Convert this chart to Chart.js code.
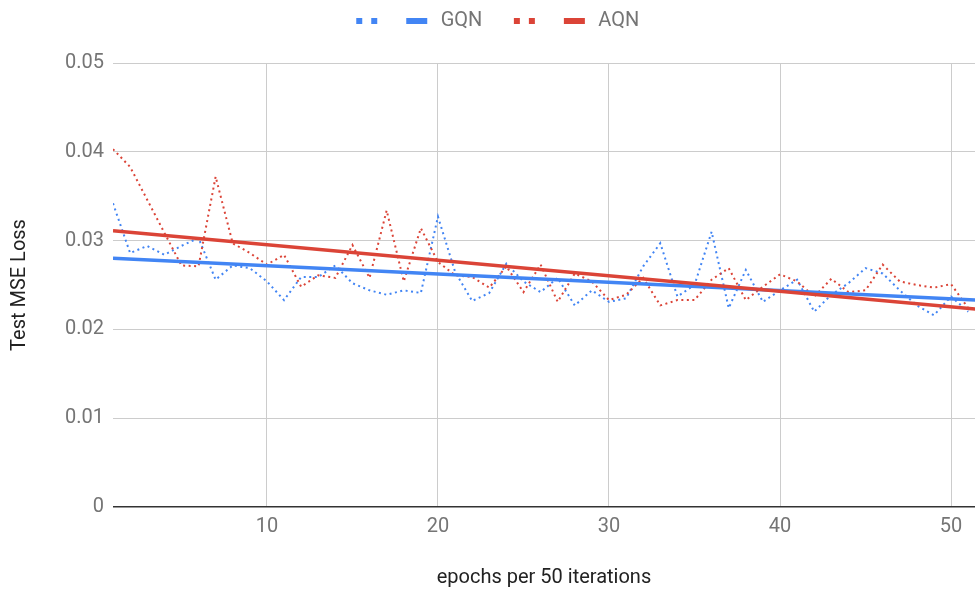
<!DOCTYPE html>
<html>
<head>
<meta charset="utf-8">
<script src="https://cdn.jsdelivr.net/npm/chart.js@4"></script>
<style>
  html, body { margin: 0; padding: 0; background: #ffffff; }
  #wrap { width: 975px; height: 591px; }
</style>
</head>
<body>
<div id="wrap"><canvas id="c" width="975" height="591"></canvas></div>
<script>
// ---- data ----
const epochs = [1,2,3,4,5,6,7,8,9,10,11,12,13,14,15,16,17,18,19,20,21,22,23,24,25,26,27,28,29,30,31,32,33,34,35,36,37,38,39,40,41,42,43,44,45,46,47,48,49,50,51];
const gqnLoss = [0.0342,0.0286,0.0294,0.0284,0.0294,0.0303,0.0256,0.0272,0.0269,0.0254,
                 0.0233,0.0259,0.0259,0.0272,0.0252,0.0244,0.0239,0.0244,0.0241,0.0327,
                 0.0265,0.0232,0.0241,0.0274,0.0254,0.0242,0.0258,0.0227,0.0244,0.0231,
                 0.0235,0.0271,0.0297,0.0237,0.0250,0.0310,0.0224,0.0267,0.0231,0.0244,
                 0.0256,0.0220,0.0239,0.0252,0.0269,0.0263,0.0244,0.0227,0.0216,0.0237,
                 0.0220];
const aqnLoss = [0.0403,0.0383,0.0346,0.0309,0.0272,0.0271,0.0372,0.0297,0.0286,0.0273,
                 0.0284,0.0248,0.0261,0.0258,0.0295,0.0258,0.0334,0.0254,0.0314,0.0276,
                 0.0261,0.0259,0.0247,0.0271,0.0242,0.0273,0.0231,0.0263,0.0254,0.0233,
                 0.0239,0.0258,0.0227,0.0233,0.0233,0.0256,0.0269,0.0233,0.0248,0.0262,
                 0.0254,0.0237,0.0257,0.0242,0.0244,0.0273,0.0254,0.0250,0.0247,0.0251,
                 0.0224];
const trendX = [1, 52];
const gqnTrend = [0.0280, 0.02325];
const aqnTrend = [0.0311, 0.0222];
const seriesNames = ["GQN", "AQN"];
const legendTexts = ["", "GQN", "", "AQN"];
const xTicks = [10, 20, 30, 40, 50];
const yTickLabels = ["0", "0.01", "0.02", "0.03", "0.04", "0.05"];

const BLUE = '#4285F4';
const RED = '#DB4437';

function pts(xs, ys) { return xs.map((x, i) => ({ x: x, y: ys[i] })); }

// legend marker images
function makeMarker(color, dotted) {
  const c = document.createElement('canvas');
  c.width = 48; c.height = 8;
  const g = c.getContext('2d');
  g.fillStyle = color;
  if (dotted) {
    g.fillRect(24 + 2, 1, 6, 6);
    g.fillRect(24 + 17, 1, 6, 6);
  } else {
    g.fillRect(24 - 6, 1, 21, 6);
  }
  return c;
}
const markers = [makeMarker(BLUE, true), makeMarker(BLUE, false), makeMarker(RED, true), makeMarker(RED, false)];

const legendSpacer = {
  id: 'legendSpacer',
  beforeInit(chart) {
    const lg = chart.legend;
    if (!lg) return;
    const orig = lg.fit;
    lg.fit = function () { orig.call(this); this.height = 63; };
  }
};

const FONT = 'Roboto';

new Chart(document.getElementById('c'), {
  type: 'line',
  data: {
    datasets: [
      { label: seriesNames[0], data: pts(epochs, gqnLoss), borderColor: BLUE, borderWidth: 2,
        borderDash: [2, 3.5], pointRadius: 0, tension: 0, fill: false, order: 4 },
      { label: seriesNames[0] + ' trend', data: pts(trendX, gqnTrend), borderColor: BLUE, borderWidth: 3.5,
        pointRadius: 0, tension: 0, fill: false, order: 2 },
      { label: seriesNames[1], data: pts(epochs, aqnLoss), borderColor: RED, borderWidth: 2,
        borderDash: [2, 3.5], pointRadius: 0, tension: 0, fill: false, order: 3 },
      { label: seriesNames[1] + ' trend', data: pts(trendX, aqnTrend), borderColor: RED, borderWidth: 3.5,
        pointRadius: 0, tension: 0, fill: false, order: 1 }
    ]
  },
  options: {
    responsive: false,
    animation: false,
    devicePixelRatio: 1,
    layout: { padding: 0 },
    plugins: {
      tooltip: { enabled: false },
      legend: {
        position: 'top',
        labels: {
          usePointStyle: true,
          pointStyleWidth: 37,
          padding: 11,
          color: '#757575',
          font: { family: FONT, size: 20 },
          generateLabels() {
            return legendTexts.map((t, i) => ({
              text: t,
              pointStyle: markers[i],
              fillStyle: 'rgba(0,0,0,0)',
              strokeStyle: 'rgba(0,0,0,0)',
              lineWidth: 0,
              hidden: false,
              datasetIndex: i,
              fontColor: '#757575'
            }));
          }
        }
      }
    },
    scales: {
      x: {
        type: 'linear',
        min: 1,
        max: 51.4,
        afterBuildTicks(scale) { scale.ticks = xTicks.map(v => ({ value: v })); },
        afterFit(scale) { scale.height = 84; },
        border: { display: false },
        grid: { color: '#cccccc', lineWidth: 1, drawTicks: false },
        ticks: { color: '#757575', font: { family: FONT, size: 20 }, padding: 8, maxRotation: 0,
                 callback: (v) => String(v) },
        title: { display: true, text: 'epochs per 50 iterations', color: '#222222',
                 font: { family: FONT, size: 20 }, padding: { top: 0, bottom: 1 } }
      },
      y: {
        min: 0,
        max: 0.05,
        afterFit(scale) { scale.width = 113; },
        border: { display: false },
        grid: {
          drawTicks: false,
          color: (ctx) => (ctx.tick && ctx.tick.value === 0) ? '#333333' : '#cccccc',
          lineWidth: (ctx) => (ctx.tick && ctx.tick.value === 0) ? 1.5 : 1
        },
        ticks: { stepSize: 0.01, color: '#757575', font: { family: FONT, size: 20 }, padding: 9,
                 callback: (v, i) => yTickLabels[i] },
        title: { display: true, text: 'Test MSE Loss', color: '#222222',
                 font: { family: FONT, size: 20 }, padding: { top: 8, bottom: 0 } }
      }
    }
  },
  plugins: [legendSpacer]
});
</script>
</body>
</html>
